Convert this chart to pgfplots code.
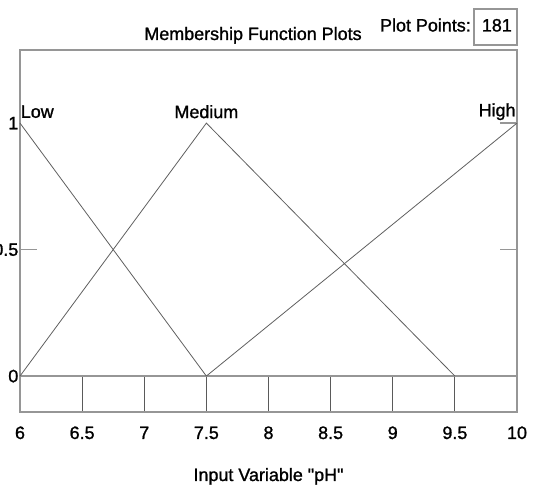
\documentclass[border=0pt]{standalone}
\usepackage{pgfplots}
\pgfplotsset{compat=1.18}
\usepackage{fontspec}
\setmainfont[Ligatures=TeXOff,FakeBold=1.2]{Liberation Sans}
\definecolor{frame}{RGB}{150,150,150}
\definecolor{mf}{RGB}{95,95,95}
\definecolor{strip}{RGB}{90,90,90}
\begin{document}
\begin{tikzpicture}[x=1bp,y=1bp]
\useasboundingbox (0,0) rectangle (537,487);
\clip (0,0) rectangle (537,487);
\fontsize{18}{21}\selectfont
\begin{axis}[
  at={(20bp,75bp)}, anchor=south west,
  width=497bp, height=362bp, scale only axis,
  xmin=6, xmax=10, ymin=-0.142, ymax=1.289,
  axis line style={draw=frame, line width=2bp},
  xtick={6,6.5,...,10},
  xticklabels={6,6.5,7,7.5,8,8.5,9,9.5,10},
  xtick pos=bottom, tick align=inside,
  x tick style={draw=strip, line width=0.8bp},
  major tick length=36bp,
  ytick={0,0.5,1}, yticklabels={0,0.5,1},
  y tick style={draw=none},
  xticklabel style={anchor=base, font=\fontsize{18}{21}\selectfont, yshift=-27bp},
  yticklabel style={anchor=east, inner sep=1.5bp, font=\fontsize{18}{21}\selectfont},
  xlabel={Input Variable "pH"},
  xlabel style={at={(axis description cs:0.5,0)}, anchor=base, yshift=-69bp, font=\fontsize{18}{21}\selectfont},
  clip=false,
]
% zero line and y ticks
\addplot[draw=frame, line width=1.5bp] coordinates {(6,0) (10,0)};
\addplot[draw=frame, line width=1.5bp] coordinates {(6,0.5) (6.137,0.5)};
\addplot[draw=frame, line width=1.5bp] coordinates {(10,0.5) (9.863,0.5)};
\addplot[draw=frame, line width=1.5bp] coordinates {(10,1) (9.863,1)};
% membership functions
\addplot[draw=mf, line width=0.8bp] coordinates {(6,1) (7.5,0)};
\addplot[draw=mf, line width=0.8bp] coordinates {(6,0) (7.5,1) (9.5,0)};
\addplot[draw=mf, line width=0.8bp] coordinates {(7.5,0) (10,1)};
\node[anchor=west, inner sep=0pt, font=\fontsize{18}{21}\selectfont] at (axis cs:6.005,1.045) {Low};
\node[anchor=center, inner sep=0pt, font=\fontsize{18}{21}\selectfont] at (axis cs:7.5,1.045) {Medium};
\node[anchor=east, inner sep=0pt, font=\fontsize{18}{21}\selectfont] at (axis cs:9.99,1.045) {High};
\end{axis}
\node[anchor=base, inner sep=0pt] at (253,447) {Membership Function Plots};
\node[anchor=base east, inner sep=0pt] at (471,455.5) {Plot Points:};
\draw[draw=frame, line width=1.5bp] (474,442) rectangle (517,478);
\node[anchor=base east, inner sep=0pt] at (512,455.5) {181};
\end{tikzpicture}
\end{document}
